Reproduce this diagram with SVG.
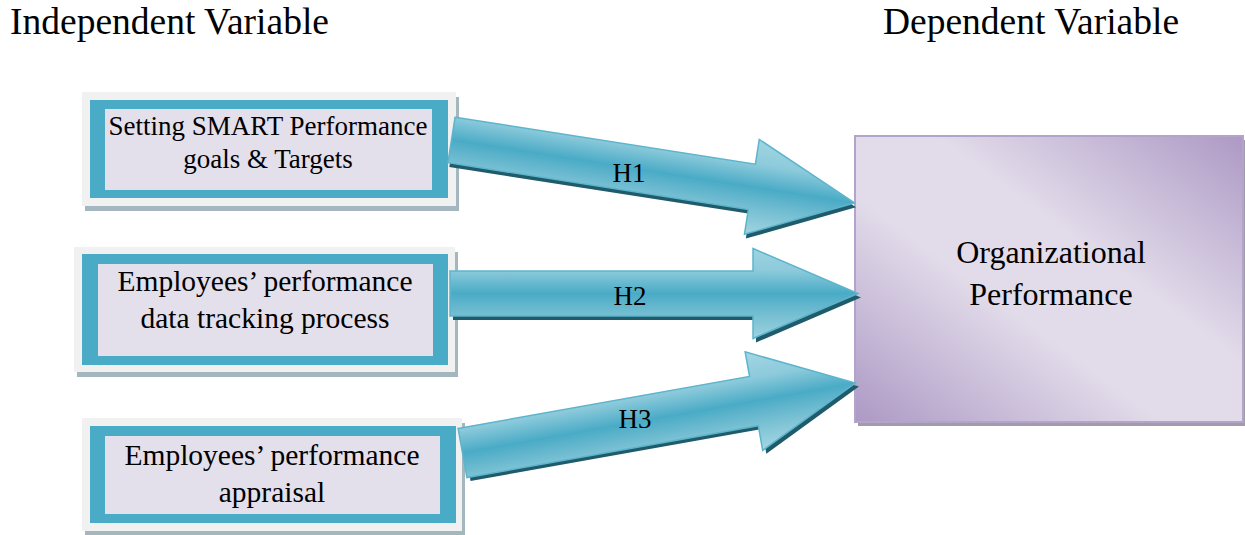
<svg xmlns="http://www.w3.org/2000/svg" width="1245" height="535" viewBox="0 0 1245 535">
<defs>
<style>
text{font-family:"Liberation Serif","Times New Roman",serif;fill:#000;}
.title{font-size:37.5px;}
.lbl{font-size:29.5px;text-anchor:middle;}
.dvl{font-size:32px;text-anchor:middle;}
.lbl1{font-size:27px;text-anchor:middle;}
.h{font-size:27px;text-anchor:middle;}
.frame{fill:#f1f1f1;}
.fshadow{fill:#a4b6be;}
.teal{fill:#4aabc6;}
.inner{fill:#e3dfeb;}
.arrow{fill:url(#ag);stroke:#5cb5cc;stroke-width:1.5;stroke-linejoin:miter;}
.ashadow{fill:#1f5b6a;}
</style>
<linearGradient id="ag" gradientUnits="userSpaceOnUse" x1="0" y1="-48" x2="0" y2="48">
<stop offset="0" stop-color="#a2d5e2"/>
<stop offset="0.26" stop-color="#8ccadb"/>
<stop offset="0.5" stop-color="#4aabc6"/>
<stop offset="0.74" stop-color="#79c0d3"/>
<stop offset="1" stop-color="#a2d5e2"/>
</linearGradient>
<linearGradient id="pg" x1="1" y1="0" x2="0" y2="1">
<stop offset="0" stop-color="#ad99c5"/>
<stop offset="0.4" stop-color="#e2dcea"/>
<stop offset="0.6" stop-color="#e2dcea"/>
<stop offset="1" stop-color="#ad99c5"/>
</linearGradient>
</defs>
<rect width="1245" height="535" fill="#fff"/>
<text class="title" x="10" y="34">Independent Variable</text>
<text class="title" x="883" y="34">Dependent Variable</text>

<g id="iv1">
<rect class="fshadow" x="85" y="97" width="374" height="114"/>
<rect class="frame" x="82" y="92" width="374" height="114"/>
<rect class="teal" x="90" y="100" width="358" height="98"/>
<rect class="inner" x="105" y="109" width="327" height="81"/>
<text class="lbl1" x="268" y="135">Setting SMART Performance</text>
<text class="lbl1" x="268" y="168">goals &amp; Targets</text>
</g>

<g id="iv2">
<rect class="fshadow" x="77" y="252" width="381" height="125"/>
<rect class="frame" x="74" y="247" width="381" height="125"/>
<rect class="teal" x="82" y="254" width="366" height="111"/>
<rect class="inner" x="98" y="264" width="335" height="92"/>
<text class="lbl" x="265" y="291">Employees’ performance</text>
<text class="lbl" x="265" y="328">data tracking process</text>
</g>

<g id="iv3">
<rect class="fshadow" x="85" y="423" width="380" height="113"/>
<rect class="frame" x="82" y="418" width="380" height="113"/>
<rect class="teal" x="90" y="426" width="366" height="97"/>
<rect class="inner" x="105" y="436" width="335" height="78"/>
<text class="lbl" x="272" y="465">Employees’ performance</text>
<text class="lbl" x="272" y="502">appraisal</text>
</g>

<g id="dv">
<rect x="858" y="140" width="388" height="286" fill="#a29ca9"/>
<rect x="855" y="136" width="388" height="286" fill="url(#pg)" stroke="#b4a4cc" stroke-width="2"/>
<text class="dvl" x="1051" y="263">Organizational</text>
<text class="dvl" x="1051" y="305">Performance</text>
</g>

<g id="connectors">
<g transform="translate(451.5,140) rotate(8.87)">
<path class="ashadow" transform="translate(2,4)" d="M0,-23 L304,-23 L304,-48 L408,0 L304,48 L304,23 L0,23 Z"/>
<path class="arrow" d="M0,-23 L304,-23 L304,-48 L408,0 L304,48 L304,23 L0,23 Z"/>
</g>
<g transform="translate(450,293.5)">
<path class="ashadow" transform="translate(3,4)" d="M0,-22.5 L303,-22.5 L303,-45 L408,0 L303,45 L303,22.5 L0,22.5 Z"/>
<path class="arrow" d="M0,-22.5 L303,-22.5 L303,-45 L408,0 L303,45 L303,22.5 L0,22.5 Z"/>
</g>
<g transform="translate(462.5,453) rotate(-10.1)">
<path class="ashadow" transform="translate(3,4)" d="M0,-25 L296,-25 L296,-50 L399,0 L296,50 L296,25 L0,25 Z"/>
<path class="arrow" d="M0,-25 L296,-25 L296,-50 L399,0 L296,50 L296,25 L0,25 Z"/>
</g>
<text class="h" x="629" y="182">H1</text>
<text class="h" x="630" y="305">H2</text>
<text class="h" x="635" y="428">H3</text>
</g>
</svg>
